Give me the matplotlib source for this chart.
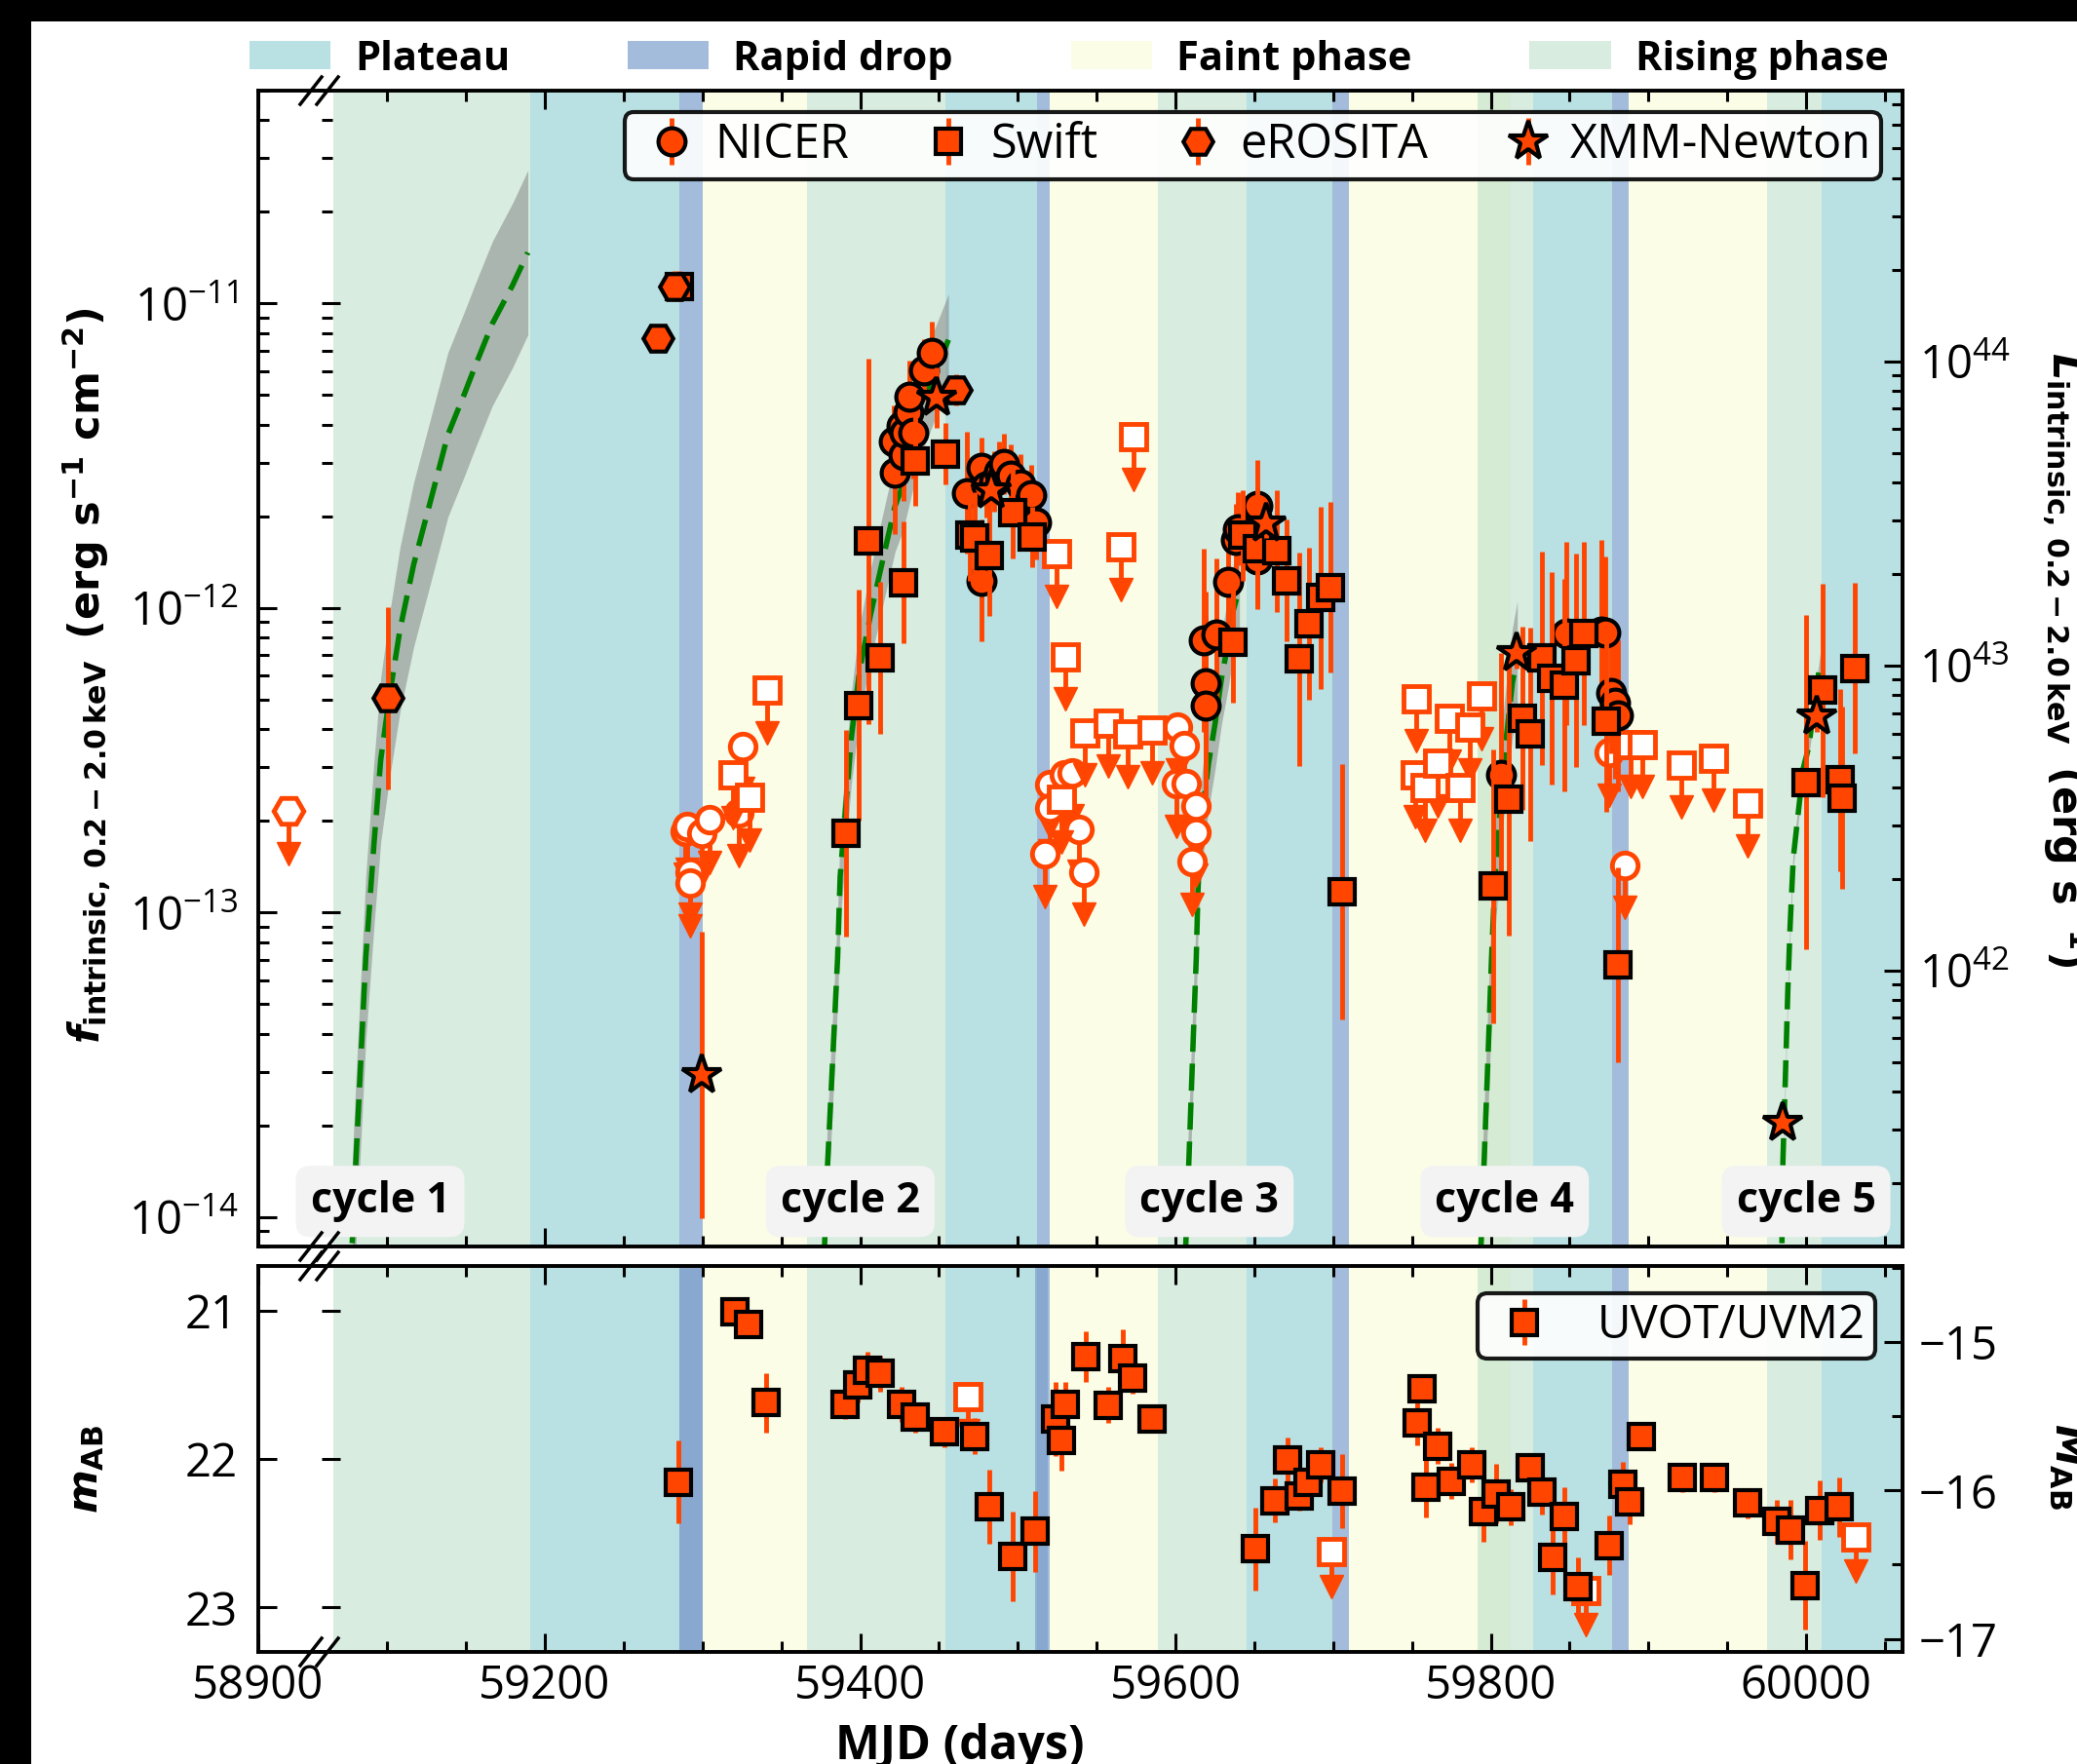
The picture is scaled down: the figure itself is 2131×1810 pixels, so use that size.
import numpy as np
import matplotlib.pyplot as plt
from matplotlib.patches import Patch, Rectangle
from matplotlib.lines import Line2D
from matplotlib.ticker import MultipleLocator, NullLocator, FixedLocator

plt.rcParams['font.family'] = ['Open Sans', 'DejaVu Sans']
plt.rcParams['font.size'] = 34
plt.rcParams['mathtext.fontset'] = 'custom'
plt.rcParams['mathtext.rm'] = 'DejaVu Sans:bold'
plt.rcParams['mathtext.bf'] = 'DejaVu Sans:bold'
plt.rcParams['mathtext.it'] = 'DejaVu Sans:italic:bold'

ORANGE = '#ff4500'

# ---- phases (MJD intervals) ----
plateau = [(59190.5, 59285.0), (59454.0, 59512.3), (59645.0, 59699.5), (59826.8, 59877.0), (60010.0, 60070.0)]
rapid_drop = [(59285.0, 59300.0), (59512.3, 59520.0), (59699.5, 59710.0), (59877.0, 59887.5)]
faint = [(59300.0, 59366.0), (59520.0, 59589.0), (59710.0, 59812.5), (59887.5, 59975.0)]
rising = [(59065.6, 59190.5), (59366.0, 59454.0), (59589.0, 59645.0), (59791.6, 59826.8), (59975.0, 60010.0)]
uv_drop = [(59285.0, 59300.0), (59511.0, 59519.0)]

cycle_names = ['cycle 1', 'cycle 2', 'cycle 3', 'cycle 4', 'cycle 5']
cycle_mjd = [59095.5, 59393.8, 59621.5, 59808.8, 60000.0]

# ---- rise models ----
model_t = [
    [59077.8, 59079.9, 59083.4, 59086.4, 59091.6, 59095.9, 59101.6, 59108.1, 59116.8,
     59127.7, 59138.5, 59149.3, 59155.8, 59166.6, 59179.6, 59189.2],
    [59377.4, 59379.2, 59382.7, 59385.7, 59387.3, 59390.2, 59394.3, 59399.5, 59406.7,
     59415.0, 59422.1, 59427.3, 59438.6, 59456.0],
    [59606.5, 59608.7, 59610.9, 59613.2, 59614.5, 59616.9, 59621.0, 59625.2, 59629.2,
     59633.4, 59636.5, 59640.6],
    [59793.8, 59796.0, 59798.3, 59800.5, 59802.7, 59804.5, 59807.5, 59810.6, 59813.7, 59816.8],
    [59984.7, 59985.3, 59986.8, 59988.4, 59989.9, 59991.9, 59995.0, 59998.1, 60001.8,
     60005.4, 60009.1],
]
model_f = [
    [8.2e-15, 1.44e-14, 3.4e-14, 7.1e-14, 1.68e-13, 3.18e-13, 5.2e-13, 8.5e-13, 1.39e-12,
     2.27e-12, 3.71e-12, 5.1e-12, 6.23e-12, 8.57e-12, 1.15e-11, 1.47e-11],
    [8.0e-15, 1.44e-14, 3.4e-14, 7.1e-14, 1.31e-13, 2.02e-13, 3.71e-13, 6.16e-13, 9.57e-13,
     1.49e-12, 2.16e-12, 2.55e-12, 4.52e-12, 7.6e-12],
    [8.0e-15, 1.63e-14, 3.4e-14, 7.1e-14, 1.31e-13, 2.06e-13, 3.09e-13, 4.19e-13, 5.87e-13,
     7.69e-13, 9.75e-13, 1.16e-12],
    [8.0e-15, 1.63e-14, 3.4e-14, 7.1e-14, 1.31e-13, 1.73e-13, 2.88e-13, 4.05e-13, 5.67e-13, 6.95e-13],
    [8.2e-15, 1.51e-14, 2.77e-14, 5.46e-14, 9.06e-14, 1.51e-13, 2.11e-13, 2.96e-13, 3.51e-13,
     4.92e-13, 6.68e-13],
]
model_band_dex = [0.27, 0.15, 0.15, 0.18, 0.03]

# ---- X-ray detections ----
nicer_t = [59421.1, 59422.1, 59426.3, 59427.3, 59428.2, 59430.4, 59431.4, 59433.5, 59440.7, 59445.4,
           59467.5, 59476.8, 59476.8, 59480.0, 59485.0, 59488.0, 59491.2, 59495.3, 59501.5, 59508.7, 59511.8,
           59617.9, 59619.3, 59619.3, 59626.2, 59633.4, 59638.5, 59639.6, 59645.0, 59652.0, 59652.0,
           59806.5, 59847.7, 59870.4, 59872.5, 59876.5, 59878.6, 59880.7]
nicer_f = [3.52e-12, 2.78e-12, 3.97e-12, 3.18e-12, 3.75e-12, 4.38e-12, 4.94e-12, 3.77e-12, 6.05e-12, 6.9e-12,
           2.39e-12, 2.88e-12, 1.23e-12, 2.5e-12, 2.6e-12, 2.8e-12, 2.97e-12, 2.73e-12, 2.55e-12, 2.35e-12, 1.91e-12,
           7.83e-13, 5.67e-13, 4.79e-13, 8.19e-13, 1.22e-12, 1.67e-12, 1.82e-12, 1.75e-12, 2.16e-12, 1.44e-12,
           2.84e-13, 8.24e-13, 8.37e-13, 8.3e-13, 5.27e-13, 4.9e-13, 4.45e-13]
nicer_e = [0.12, 0.2, 0.1, 0.15, 0.1, 0.1, 0.12, 0.15, 0.1, 0.1,
           0.2, 0.1, 0.2, 0.1, 0.1, 0.1, 0.1, 0.1, 0.1, 0.1, 0.12,
           0.3, 0.3, 0.3, 0.25, 0.2, 0.12, 0.12, 0.12, 0.15, 0.15,
           0.4, 0.3, 0.3, 0.25, 0.2, 0.25, 0.25]

swift_t = [59285.0, 59391.2, 59399.1, 59405.1, 59412.9, 59427.3, 59434.9, 59454.1,
           59469.5, 59472.6, 59481.9, 59497.0, 59509.3,
           59636.5, 59642.7, 59652.0, 59664.3, 59670.5, 59678.3, 59684.5, 59692.1, 59698.3, 59705.5,
           59801.3, 59811.6, 59819.9, 59825.0, 59832.3, 59838.4, 59846.7, 59853.9, 59859.1, 59873.4, 59880.6,
           60000.2, 60010.5, 60021.8, 60022.9, 60031.1]
swift_f = [1.14e-11, 1.82e-13, 4.79e-13, 1.66e-12, 6.87e-13, 1.21e-12, 3.05e-12, 3.21e-12,
           1.73e-12, 1.70e-12, 1.49e-12, 2.05e-12, 1.71e-12,
           7.74e-13, 1.73e-12, 1.57e-12, 1.54e-12, 1.23e-12, 6.79e-13, 8.87e-13, 1.08e-12, 1.17e-12, 1.17e-13,
           1.22e-13, 2.36e-13, 4.34e-13, 3.85e-13, 6.84e-13, 5.87e-13, 5.58e-13, 6.72e-13, 8.24e-13, 4.26e-13, 6.73e-14,
           2.68e-13, 5.36e-13, 2.72e-13, 2.38e-13, 6.34e-13]
swift_e = [0.05, 0.34, 0.38, 0.6, 0.25, 0.2, 0.15, 0.1,
           0.15, 0.15, 0.2, 0.15, 0.1,
           0.2, 0.15, 0.2, 0.2, 0.2, 0.35, 0.25, 0.3, 0.28, 0.42,
           0.45, 0.45, 0.3, 0.35, 0.35, 0.35, 0.35, 0.35, 0.3, 0.3, 0.32,
           0.55, 0.35, 0.3, 0.3, 0.28]

erosita_t = [59100.6, 59272.0, 59282.0, 59461.0]
erosita_f = [5.06e-13, 7.7e-12, 1.14e-11, 5.2e-12]
erosita_e = [0.3, 0.03, 0.05, 0.05]

xmm_t = [59299.7, 59448.4, 59482.9, 59657.6, 59816.4, 59985.3, 60007.1]
xmm_f = [2.92e-14, 4.9e-12, 2.44e-12, 1.9e-12, 7.1e-13, 2.04e-14, 4.4e-13]
xmm_e = [0.47, 0.1, 0.05, 0.05, 0.05, 0.03, 0.05]

# ---- X-ray upper limits ----
nicer_ul_t = [59289.0, 59290.2, 59292.3, 59292.3, 59299.5, 59304.7, 59323.2, 59325.3,
              59517.0, 59520.0, 59520.0, 59529.3, 59534.5, 59538.6, 59541.7,
              59600.4, 59601.4, 59605.6, 59606.6, 59610.7, 59612.8, 59612.8,
              59875.4, 59884.8]
nicer_ul_f = [1.85e-13, 1.91e-13, 1.36e-13, 1.25e-13, 1.82e-13, 2.02e-13, 2.12e-13, 3.52e-13,
              1.56e-13, 2.64e-13, 2.2e-13, 2.83e-13, 2.87e-13, 1.88e-13, 1.36e-13,
              2.65e-13, 4.05e-13, 3.53e-13, 2.65e-13, 1.47e-13, 2.24e-13, 1.83e-13,
              3.36e-13, 1.43e-13]

swift_ul_t = [59319.1, 59330.0, 59340.8,
              59524.8, 59527.9, 59530.3, 59542.7, 59557.1, 59565.4, 59569.5, 59573.6, 59585.0,
              59751.9, 59752.9, 59758.1, 59766.3, 59773.5, 59780.7, 59786.9, 59794.1,
              59889.0, 59896.1, 59920.8, 59941.5, 59963.1]
swift_ul_f = [2.83e-13, 2.39e-13, 5.38e-13,
              1.51e-12, 2.35e-13, 6.93e-13, 3.9e-13, 4.18e-13, 1.59e-12, 3.85e-13, 3.66e-12, 3.98e-13,
              2.84e-13, 5.05e-13, 2.57e-13, 3.09e-13, 4.34e-13, 2.57e-13, 4.05e-13, 5.13e-13,
              3.57e-13, 3.57e-13, 3.06e-13, 3.22e-13, 2.28e-13]

erosita_ul_t = [58919.0]
erosita_ul_f = [2.16e-13]

# ---- UVOT/UVM2 ----
uv_t = [59284.5, 59320.4, 59329.1, 59340.3, 59390.6, 59398.3, 59404.9, 59412.7, 59426.5, 59434.7,
        59453.7, 59472.6, 59481.9, 59496.7, 59511.1,
        59523.9, 59527.5, 59530.0, 59543.4, 59557.2, 59566.4, 59572.6, 59584.9,
        59650.5, 59663.3, 59671.0, 59678.7, 59684.3, 59692.1, 59705.9,
        59753.1, 59756.1, 59758.7, 59766.4, 59775.1, 59787.9, 59795.6, 59803.2, 59812.5, 59825.3,
        59832.5, 59839.1, 59846.8, 59855.6, 59875.1, 59883.8, 59887.9, 59895.5,
        59921.2, 59941.7, 59962.7, 59981.2, 59990.4, 59999.6, 60008.4, 60021.1]
uv_m = [22.155, 21.007, 21.094, 21.621, 21.632, 21.5, 21.40, 21.424, 21.632, 21.72,
        21.819, 21.847, 22.324, 22.657, 22.489,
        21.731, 21.878, 21.632, 21.309, 21.636, 21.325, 21.457, 21.731,
        22.605, 22.28, 22.005, 22.247, 22.159, 22.038, 22.214,
        21.76, 21.529, 22.192, 21.913, 22.148, 22.038, 22.357, 22.236, 22.324, 22.06,
        22.225, 22.664, 22.39, 22.862, 22.583, 22.17, 22.291, 21.852,
        22.126, 22.126, 22.298, 22.423, 22.478, 22.851, 22.346, 22.324]
uv_e = [0.28, 0.03, 0.03, 0.2, 0.1, 0.12, 0.12, 0.12, 0.12, 0.1,
        0.1, 0.12, 0.25, 0.3, 0.27,
        0.25, 0.2, 0.15, 0.17, 0.12, 0.2, 0.1, 0.08,
        0.28, 0.15, 0.15, 0.1, 0.1, 0.12, 0.25,
        0.15, 0.06, 0.2, 0.12, 0.12, 0.12, 0.2, 0.2, 0.12, 0.1,
        0.15, 0.25, 0.2, 0.2, 0.2, 0.15, 0.15, 0.08,
        0.1, 0.1, 0.1, 0.15, 0.2, 0.3, 0.2, 0.2]
uv_ul_t = [59468.5, 59698.7, 59860.2, 60031.4]
uv_ul_m = [21.577, 22.627, 22.884, 22.528]

LOG_L_OVER_F = 55.19      # luminosity / flux
ABS_OFFSET = 6.212        # right-hand magnitude scale = offset - m_AB

W, H = 2131, 1810
fig = plt.figure(figsize=(W / 100, H / 100), dpi=100, facecolor='black')
fig.add_artist(Rectangle((32 / W, 0), 1, 1 - 22 / H, transform=fig.transFigure,
                         fc='white', ec='none', zorder=-10))

x_left, x_brk, x_right = 265 / W, 330 / W, 1952 / W
t_bot, t_top = 1 - 1279 / H, 1 - 93 / H
b_bot, b_top = 1 - 1695 / H, 1 - 1299 / H

ax_tl = fig.add_axes([x_left, t_bot, x_brk - x_left, t_top - t_bot])
ax_t = fig.add_axes([x_brk, t_bot, x_right - x_brk, t_top - t_bot], sharey=ax_tl)
ax_bl = fig.add_axes([x_left, b_bot, x_brk - x_left, b_top - b_bot], sharex=ax_tl)
ax_b = fig.add_axes([x_brk, b_bot, x_right - x_brk, b_top - b_bot], sharex=ax_t, sharey=ax_bl)

C_PLATEAU = '#b9e0e2'
C_DROP = '#7da0cc'
C_FAINT = '#fbfde7'
C_RISE = '#aad6bc'

for ax in (ax_t, ax_b):
    for a, b in plateau:
        ax.axvspan(a, b, color=C_PLATEAU, lw=0, zorder=0.1)
    for a, b in faint:
        ax.axvspan(a, b, color=C_FAINT, lw=0, zorder=0.1)
    for a, b in rising:
        ax.axvspan(a, b, color=C_RISE, alpha=0.46, lw=0, zorder=0.2)
    for a, b in rapid_drop:
        ax.axvspan(a, b, color=C_DROP, alpha=0.7, lw=0, zorder=0.3)
for a, b in uv_drop:
    ax_b.axvspan(a, b, color=C_DROP, alpha=0.7, lw=0, zorder=0.3)

# rise models
for t, f, w in zip(model_t, model_f, model_band_dex):
    t = np.asarray(t)
    f = np.asarray(f)
    ax_t.fill_between(t, f / 10**w, f * 10**w, color='grey', alpha=0.5, lw=0, zorder=1)
    ax_t.plot(t, f, color='green', lw=4, ls=(0, (5, 2.2)), zorder=2)


def detections(ax, t, y, yerr, marker, ms, z):
    return ax.errorbar(t, y, yerr=yerr, fmt=marker, ms=ms, mfc=ORANGE, mec='black', mew=3,
                       ecolor=ORANGE, elinewidth=3.5, capsize=0, zorder=z)


def dex_err(f, e):
    f = np.asarray(f)
    e = np.asarray(e)
    return [f - f / 10**e, f * 10**e - f]


def upper_limits(ax, t, y, tip, marker, ms, z):
    ax.vlines(t, tip, y, color=ORANGE, lw=3.5, zorder=z)
    ax.plot(t, tip, 'v', ms=17, color=ORANGE, mec=ORANGE, ls='none', zorder=z)
    ax.plot(t, y, marker, ms=ms, mfc='white', mec=ORANGE, mew=3.5, ls='none', zorder=z + 0.1)


ul_drop_dex = 0.14
upper_limits(ax_t, nicer_ul_t, nicer_ul_f, np.asarray(nicer_ul_f) / 10**ul_drop_dex, 'o', 19, 3)
upper_limits(ax_t, swift_ul_t, swift_ul_f, np.asarray(swift_ul_f) / 10**ul_drop_dex, 's', 19, 3.2)
upper_limits(ax_tl, erosita_ul_t, erosita_ul_f, np.asarray(erosita_ul_f) / 10**ul_drop_dex, 'H', 22, 3)

h_nicer = detections(ax_t, nicer_t, nicer_f, dex_err(nicer_f, nicer_e), 'o', 20, 4)
h_swift = detections(ax_t, swift_t, swift_f, dex_err(swift_f, swift_e), 's', 19, 5)
h_ero = detections(ax_t, erosita_t, erosita_f, dex_err(erosita_f, erosita_e), 'H', 22, 6)
h_xmm = detections(ax_t, xmm_t, xmm_f, dex_err(xmm_f, xmm_e), '*', 30, 7)

ul_drop_mag = 0.23
upper_limits(ax_b, uv_ul_t, uv_ul_m, np.asarray(uv_ul_m) + ul_drop_mag, 's', 19, 3)
h_uv = detections(ax_b, uv_t, uv_m, uv_e, 's', 19, 5)

# cycle tags
for name, t in zip(cycle_names, cycle_mjd):
    ax_t.text(t, 0.039, name, transform=ax_t.get_xaxis_transform(), ha='center', va='center',
              fontsize=31, fontweight='bold', zorder=10,
              bbox=dict(boxstyle='round,pad=0.35', fc='#f3f3f3', ec='none'))

# axes ranges and scales
ax_tl.set_yscale('log')
ax_t.set_yscale('log')
ax_tl.set_ylim(8e-15, 5e-11)
ax_tl.set_xlim(58900, 58940)
ax_t.set_xlim(59058.4, 60061.2)
ax_bl.set_ylim(23.3, 20.7)

ax_tl.xaxis.set_major_locator(FixedLocator([58900]))
ax_tl.xaxis.set_minor_locator(NullLocator())
ax_t.xaxis.set_major_locator(MultipleLocator(200))
ax_t.xaxis.set_minor_locator(MultipleLocator(50))
ax_bl.yaxis.set_major_locator(FixedLocator([21, 22, 23]))
ax_bl.yaxis.set_minor_locator(NullLocator())

for ax in (ax_tl, ax_t, ax_bl, ax_b):
    for s in ax.spines.values():
        s.set_linewidth(2.8)
    ax.tick_params(which='both', direction='in', top=True, bottom=True, width=2.2, labelsize=34)
    ax.tick_params(which='major', length=14)
    ax.tick_params(which='minor', length=8)
    ax.tick_params(axis='x', pad=8)
    ax.tick_params(axis='y', pad=15)

for ax in (ax_tl, ax_bl):
    ax.spines['right'].set_visible(False)
    ax.tick_params(axis='y', which='both', right=False)
for ax in (ax_t, ax_b):
    ax.spines['left'].set_visible(False)
    ax.tick_params(axis='y', which='both', left=False, right=False, labelleft=False)
for ax in (ax_tl, ax_t):
    ax.tick_params(axis='x', labelbottom=False)

# right-hand scales
axr = ax_t.twinx()
axr.set_yscale('log')
lo, hi = ax_t.get_ylim()
axr.set_ylim(lo * 10**LOG_L_OVER_F, hi * 10**LOG_L_OVER_F)
axbr = ax_b.twinx()
lo, hi = ax_b.get_ylim()
axbr.set_ylim(ABS_OFFSET - lo, ABS_OFFSET - hi)
axbr.yaxis.set_major_locator(MultipleLocator(1))
axbr.yaxis.set_minor_locator(MultipleLocator(0.5))
for ax in (axr, axbr):
    for side in ('left', 'top', 'bottom'):
        ax.spines[side].set_visible(False)
    ax.spines['right'].set_linewidth(2.8)
    ax.tick_params(which='both', direction='in', width=2.2, labelsize=34, pad=12)
    ax.tick_params(which='major', length=14)
    ax.tick_params(which='minor', length=8)

# break marks on the split time axis
for ypix in (93, 1279, 1299, 1695):
    for xpix in (319, 336):
        fig.add_artist(Line2D([(xpix - 11) / W, (xpix + 11) / W],
                              [1 - (ypix + 14) / H, 1 - (ypix - 14) / H],
                              transform=fig.transFigure, color='black', lw=2.5, zorder=20))

# legends
phase_handles = [Patch(fc=C_PLATEAU, lw=0), Patch(fc=C_DROP, alpha=0.7, lw=0),
                 Patch(fc=C_FAINT, lw=0), Patch(fc=C_RISE, alpha=0.46, lw=0)]
fig.legend(phase_handles, ['Plateau', 'Rapid drop', 'Faint phase', 'Rising phase'],
           loc='center', bbox_to_anchor=(0.5146, 1 - 61 / H), ncol=4, frameon=False,
           columnspacing=2.9, handlelength=2.0, handletextpad=0.6,
           prop={'size': 30, 'weight': 'bold'})

leg = ax_t.legend([h_nicer, h_swift, h_ero, h_xmm], ['NICER', 'Swift', 'eROSITA', 'XMM-Newton'],
                  loc='upper right', ncol=4, fontsize=35, handlelength=1.6, handletextpad=0.1,
                  columnspacing=1.3, borderpad=0.2, borderaxespad=0.45, framealpha=0.9)
leg.get_frame().set_edgecolor('black')
leg.get_frame().set_linewidth(3)
leg.set_zorder(30)

leg2 = ax_b.legend([h_uv], ['UVOT/UVM2'], loc='upper right', fontsize=34, handlelength=1.6,
                   handletextpad=0.8, borderpad=0.2, borderaxespad=0.6, framealpha=0.9)
leg2.get_frame().set_edgecolor('black')
leg2.get_frame().set_linewidth(3)
leg2.set_zorder(30)

# axis titles
fig.text(89 / W, 1 - 693 / H,
         r'$f_{\mathrm{intrinsic,\,0.2-2.0\,keV}}$  $\mathrm{(erg\ s^{-1}\ cm^{-2})}$',
         rotation=90, ha='center', va='center', fontsize=31)
fig.text(2119 / W, 1 - 677 / H,
         r'$L_{\mathrm{intrinsic,\,0.2-2.0\,keV}}$  $\mathrm{(erg\ s^{-1})}$',
         rotation=270, ha='center', va='center', fontsize=31)
fig.text(89 / W, 1 - 1508 / H, r'$m_{\mathrm{AB}}$', rotation=90, ha='center', va='center', fontsize=31)
fig.text(2120 / W, 1 - 1504 / H, r'$M_{\mathrm{AB}}$', rotation=270, ha='center', va='center', fontsize=31)
fig.text(985 / W, 5 / H, 'MJD (days)', ha='center', va='baseline', fontsize=35, fontweight='bold')

fig.savefig('out.png', dpi=100, facecolor='black')
